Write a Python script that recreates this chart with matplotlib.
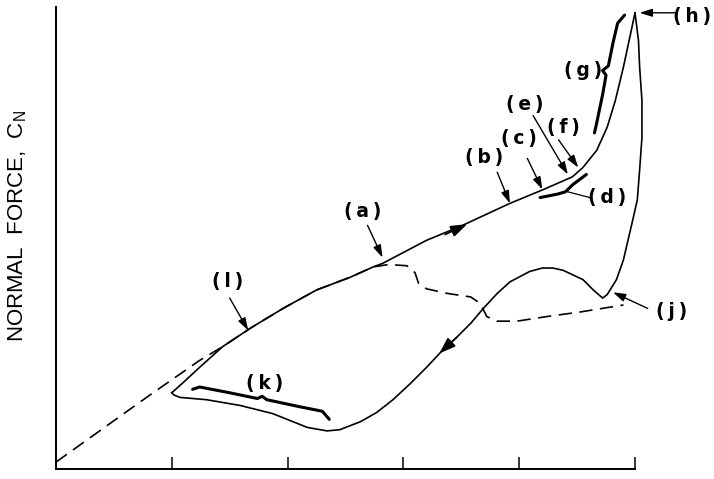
import matplotlib
matplotlib.use("Agg")
import matplotlib.pyplot as plt

# static curve (dashed): attached flow, then separated branch
static_alpha = [0.0, 0.81, 1.24, 1.44, 1.68, 1.96, 2.25, 2.54, 2.74, 2.87, 3.03, 3.10,
                3.13, 3.20, 3.38, 3.58, 3.64, 3.69, 3.72, 3.81, 3.98, 4.24, 4.53, 4.90]
static_cn = [0.06, 0.64, 0.94, 1.06, 1.22, 1.39, 1.55, 1.66, 1.75, 1.77, 1.76, 1.70,
             1.61, 1.56, 1.52, 1.49, 1.45, 1.38, 1.32, 1.28, 1.28, 1.32, 1.36, 1.42]

# dynamic loop, upstroke (corner -> peak)
up_alpha = [1.00, 1.10, 1.24, 1.44, 1.68, 1.96, 2.25, 2.54, 2.74, 2.82, 3.20, 3.49,
            3.92, 4.21, 4.46, 4.55, 4.67, 4.76, 4.83, 4.90, 4.96, 5.00]
up_cn = [0.66, 0.75, 0.88, 1.06, 1.22, 1.39, 1.55, 1.66, 1.75, 1.78, 1.98, 2.10,
         2.30, 2.42, 2.53, 2.61, 2.76, 2.96, 3.19, 3.48, 3.76, 3.95]

# dynamic loop, downstroke (peak -> corner)
down_alpha = [5.00, 5.03, 5.04, 5.06, 5.06, 5.04, 5.02, 4.97, 4.93, 4.90, 4.84, 4.76,
              4.72, 4.64, 4.55, 4.38, 4.29, 4.20, 4.09, 3.92, 3.81, 3.69, 3.58, 3.46,
              3.34, 3.20, 3.06, 2.91, 2.77, 2.63, 2.45, 2.34, 2.17, 1.87, 1.59, 1.30,
              1.07, 1.02, 1.00]
down_cn = [3.95, 3.71, 3.48, 3.19, 2.87, 2.59, 2.33, 2.11, 1.94, 1.81, 1.64, 1.51,
           1.48, 1.55, 1.64, 1.72, 1.74, 1.74, 1.71, 1.62, 1.52, 1.39, 1.26, 1.14,
           1.03, 0.88, 0.74, 0.60, 0.49, 0.41, 0.34, 0.33, 0.36, 0.48, 0.55, 0.60,
           0.62, 0.64, 0.66]

# direction arrows on the loop (tail, tip)
dir_arrows = [((3.36, 2.03), (3.55, 2.12)), ((3.46, 1.14), (3.31, 1.00))]

# braces
brace_k_alpha = [1.18, 1.24, 1.50, 1.74, 1.78, 1.82, 2.10, 2.30, 2.36]
brace_k_cn = [0.69, 0.71, 0.66, 0.61, 0.63, 0.60, 0.54, 0.50, 0.43]
brace_d_alpha = [4.18, 4.33, 4.40, 4.46, 4.54, 4.58]
brace_d_cn = [2.35, 2.38, 2.40, 2.46, 2.52, 2.55]
brace_g_alpha = [4.65, 4.67, 4.72, 4.75, 4.72, 4.77, 4.81, 4.85, 4.91]
brace_g_cn = [2.91, 3.00, 3.24, 3.41, 3.45, 3.49, 3.69, 3.86, 3.93]

# labels: text, position, arrow tail, arrow tip
labels = ["a", "b", "c", "e", "f", "h", "j", "l"]
label_pos = [(2.65, 2.23), (3.70, 2.70), (4.00, 2.86), (4.05, 3.16), (4.38, 2.96),
             (5.49, 3.92), (5.32, 1.36), (1.48, 1.62)]
arrow_tail = [(2.69, 2.11), (3.81, 2.57), (4.07, 2.69), (4.12, 3.06), (4.34, 2.85),
              (5.35, 3.95), (5.11, 1.39), (1.50, 1.48)]
arrow_tip = [(2.82, 1.83), (3.92, 2.30), (4.20, 2.42), (4.42, 2.55), (4.51, 2.61),
             (5.04, 3.95), (4.81, 1.53), (1.66, 1.20)]

# labels for braces / leader line
brace_labels = ["d", "g", "k"]
brace_label_pos = [(4.76, 2.35), (4.55, 3.45), (1.80, 0.74)]
d_leader = [(4.61, 2.35), (4.42, 2.40)]

fig = plt.figure(figsize=(7.14, 4.79), dpi=100)
ax = fig.add_axes([56 / 714, 10 / 479, 579 / 714, 462 / 479])
ax.set_xlim(0, 5)
ax.set_ylim(0, 4)

ax.plot(static_alpha, static_cn, color="black", lw=1.2, dashes=(8, 4.5), clip_on=False)
ax.plot(up_alpha, up_cn, color="black", lw=1.2, clip_on=False, solid_joinstyle="round")
ax.plot(down_alpha, down_cn, color="black", lw=1.2, clip_on=False, solid_joinstyle="round")

for tail, tip in dir_arrows:
    ax.annotate("", xy=tip, xytext=tail,
                arrowprops=dict(arrowstyle="-|>,head_length=1.0,head_width=0.35",
                                color="black", lw=1.2, shrinkA=0, shrinkB=0))

for bx, by in [(brace_k_alpha, brace_k_cn), (brace_d_alpha, brace_d_cn),
               (brace_g_alpha, brace_g_cn)]:
    ax.plot(bx, by, color="black", lw=2.2, clip_on=False,
            solid_joinstyle="round", solid_capstyle="round")

def lab(s):
    return "(\u2009" + s + "\u2009)"

for s, p, t0, t1 in zip(labels, label_pos, arrow_tail, arrow_tip):
    ax.text(p[0], p[1], lab(s), ha="center", va="center", fontsize=13.5,
            fontweight="bold", family="DejaVu Sans")
    ax.annotate("", xy=t1, xytext=t0, annotation_clip=False,
                arrowprops=dict(arrowstyle="-|>,head_length=0.75,head_width=0.24",
                                color="black", lw=1.0, shrinkA=0, shrinkB=0))

for s, p in zip(brace_labels, brace_label_pos):
    ax.text(p[0], p[1], lab(s), ha="center", va="center", fontsize=13.5,
            fontweight="bold", family="DejaVu Sans")
ax.plot([q[0] for q in d_leader], [q[1] for q in d_leader], color="black", lw=0.9)

ax.spines["top"].set_visible(False)
ax.spines["right"].set_visible(False)
ax.spines["left"].set_linewidth(1.4)
ax.spines["bottom"].set_linewidth(1.4)
ax.set_xticks([1, 2, 3, 4, 5])
ax.set_xticklabels([])
ax.set_yticks([])
ax.tick_params(axis="x", direction="in", length=8.6, width=1.1)

ax.set_ylabel(r"NORMAL  FORCE,  C$_\mathregular{N}$", fontsize=16,
              family="Liberation Sans")
ax.yaxis.set_label_coords(-0.047, 0.526)

fig.savefig("out.png", dpi=100)
